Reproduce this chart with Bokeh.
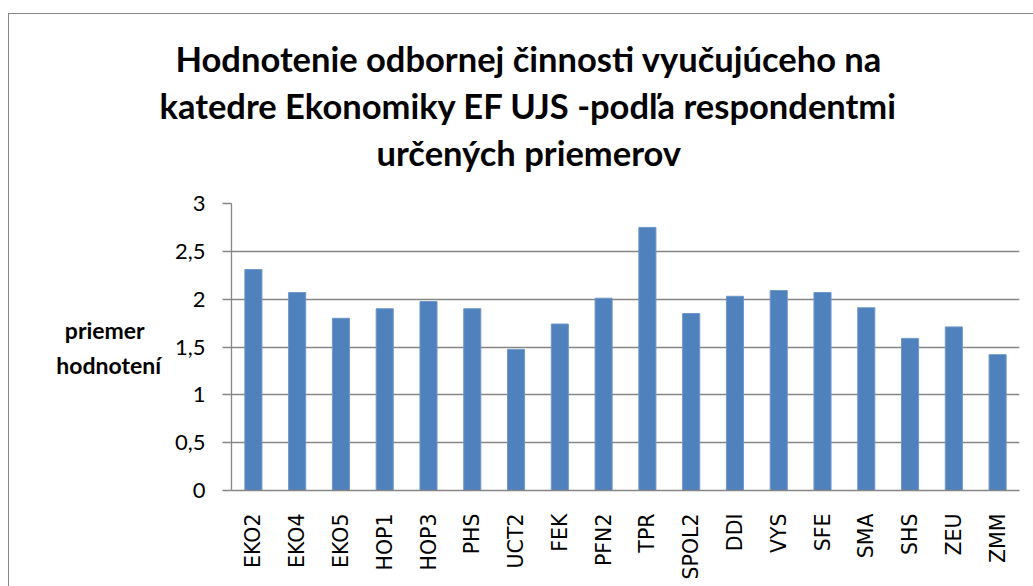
import math
from bokeh.plotting import figure
from bokeh.models import ColumnDataSource, FixedTicker, Title, InlineStyleSheet
from bokeh.embed import file_html
from bokeh.resources import INLINE

categories = ["EKO2", "EKO4", "EKO5", "HOP1", "HOP3", "PHS", "UCT2", "FEK", "PFN2",
              "TPR", "SPOL2", "DDI", "VYS", "SFE", "SMA", "SHS", "ZEU", "ZMM"]
values = [2.31, 2.07, 1.80, 1.90, 1.975, 1.90, 1.475, 1.74, 2.01,
          2.75, 1.85, 2.03, 2.09, 2.07, 1.91, 1.59, 1.71, 1.42]
y_ticks = [0, 0.5, 1, 1.5, 2, 2.5, 3]
y_tick_labels = ["0", "0,5", "1", "1,5", "2", "2,5", "3"]
title_lines = ["Hodnotenie odbornej činnosti vyučujúceho na",
               "katedre Ekonomiky EF UJS -podľa respondentmi",
               "určených priemerov"]
y_label = "priemer\u00a0\u00a0\u00a0\nhodnotení"

W, H = 1033, 586
p = figure(x_range=categories, y_range=(0, 3), width=W, height=H,
           output_backend="svg", toolbar_location=None, title_location=None,
           min_border_left=231, min_border_right=14, min_border_top=203,
           min_border_bottom=96)
p.outline_line_color = None
p.background_fill_color = "white"
p.border_fill_color = "white"

src = ColumnDataSource(dict(cat=categories, val=values))
p.vbar(x="cat", top="val", width=0.39, source=src, fill_color="#4F81BD",
       line_color="#6f97c8", line_width=1)

p.x_range.range_padding = 0
GRID = "#868686"
p.xgrid.grid_line_color = None
p.ygrid.grid_line_color = GRID
p.ygrid.grid_line_width = 1.3
p.ygrid.ticker = FixedTicker(ticks=y_ticks)

yax = p.yaxis[0]
yax.ticker = FixedTicker(ticks=y_ticks)
yax.major_label_overrides = {t: l for t, l in zip(y_ticks, y_tick_labels)}
yax.axis_line_color = GRID
yax.axis_line_width = 1.3
yax.major_tick_line_color = GRID
yax.major_tick_line_width = 1.3
yax.major_tick_out = 9
yax.major_tick_in = 0
yax.minor_tick_line_color = None
yax.major_label_text_font = "Lato"
yax.major_label_text_font_size = "22px"
yax.major_label_text_color = "black"
yax.major_label_standoff = 17
yax.axis_label = y_label
yax.axis_label_orientation = "horizontal"
yax.axis_label_text_line_height = 1.25
yax.axis_label_text_font = "Lato"
yax.axis_label_text_font_style = "bold"
yax.axis_label_text_font_size = "23px"
yax.axis_label_text_color = "black"
yax.axis_label_standoff = 11

xax = p.xaxis[0]
xax.axis_line_color = GRID
xax.axis_line_width = 1.3
xax.major_tick_line_color = None
xax.minor_tick_line_color = None
xax.major_label_orientation = math.pi / 2
xax.major_label_text_font = "DejaVu Sans"
xax.major_label_text_font_size = "20.5px"
xax.major_label_text_color = "black"
xax.major_label_standoff = 17

# spacer between the plot frame and the title block
p.add_layout(Title(text=" ", standoff=16, text_font_size="10px"), "above")
# title lines, nearest to the frame first
offsets = [145, -72, -56]
for txt, off in zip(reversed(title_lines), offsets):
    p.add_layout(Title(text=txt, align="left", offset=off, standoff=4,
                       text_font="Lato", text_font_style="bold",
                       text_font_size="34.5px", text_color="black"), "above")

# chart area border (left and top edges of the chart box)
p.stylesheets = [InlineStyleSheet(css="""
:host { position: relative; }
:host::after { content: ""; position: absolute; left: 8px; top: 13px; right: -5px; bottom: -5px;
  border-left: 1.5px solid #868686; border-top: 1.5px solid #868686;
  pointer-events: none; z-index: 10; }
""")]

open("out.html", "w").write(file_html(p, INLINE))
